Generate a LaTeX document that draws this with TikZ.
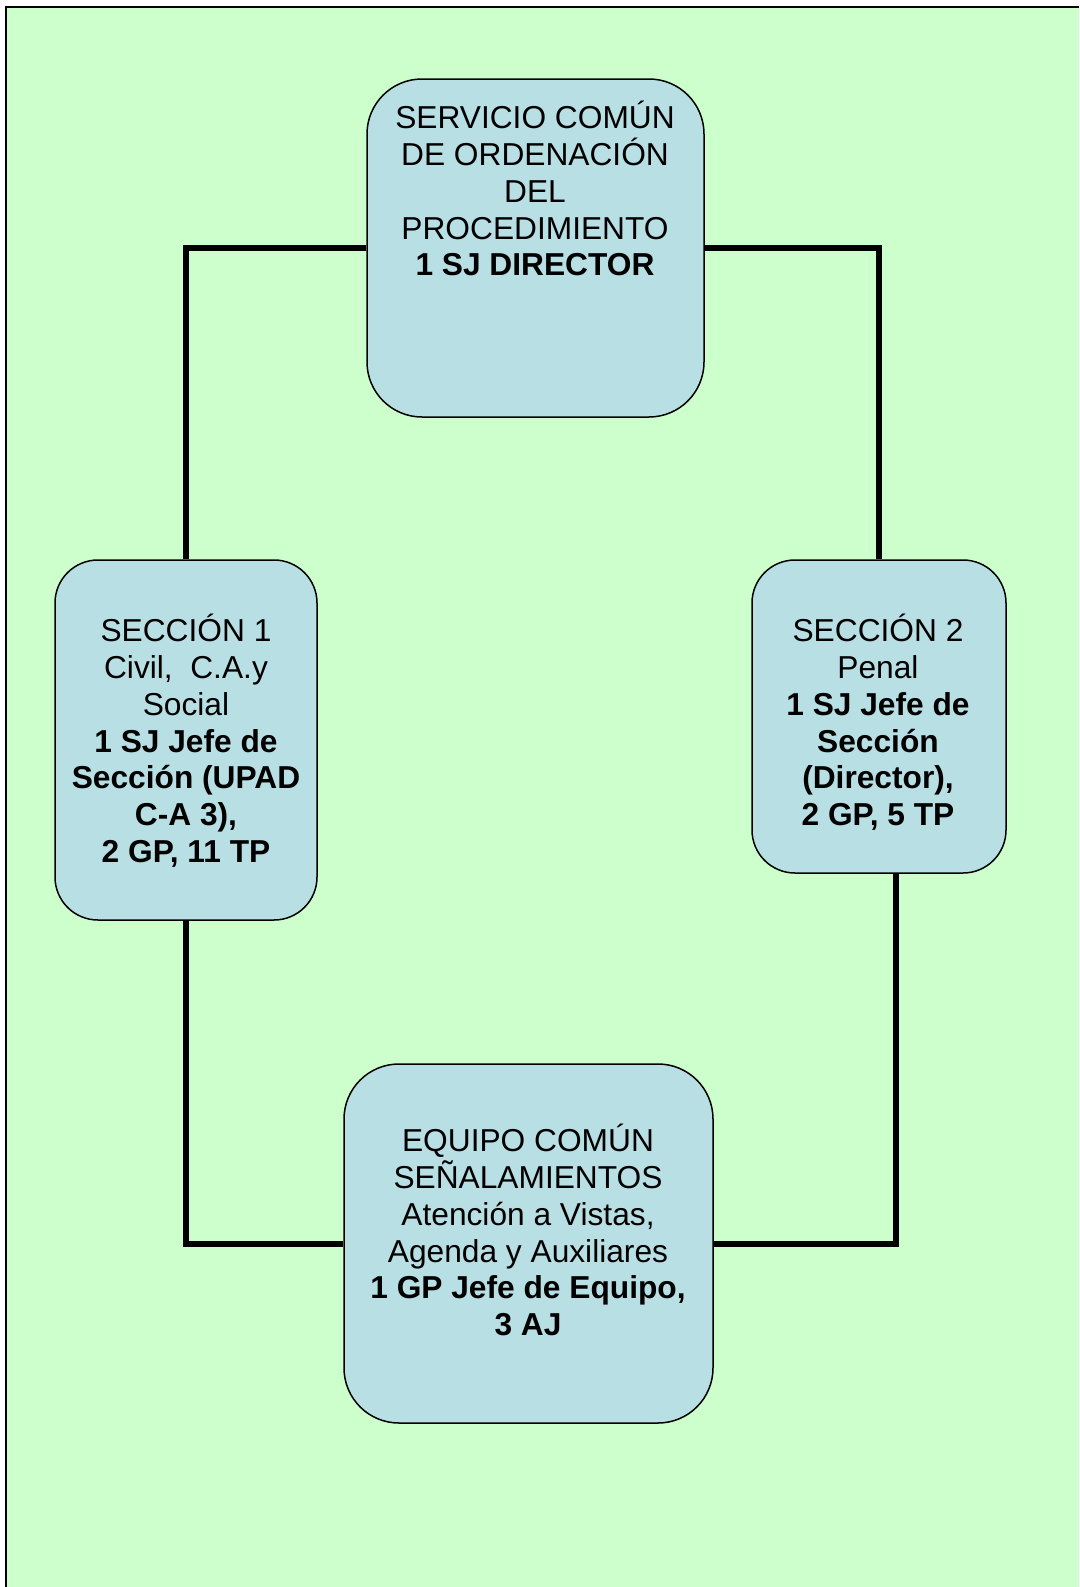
\documentclass[tikz,border=0pt]{standalone}
\usepackage{fontspec}
\setmainfont{Liberation Sans}
\definecolor{bg}{RGB}{204,255,204}
\definecolor{boxfill}{RGB}{184,223,228}
\begin{document}
\begin{tikzpicture}[x=1pt,y=-1pt,
  box/.style={draw=black, line width=1.5pt, fill=boxfill, rounded corners=#1, inner sep=0pt},
  lbl/.style={anchor=north, inner sep=0pt, align=center, font=\fontsize{31.7}{36.8}\selectfont},
  conn/.style={draw=black, line width=6pt}]
\useasboundingbox (0,0) rectangle (1079,1587);
\fill[bg] (6,7) rectangle (1079,1587);
\draw[line width=2pt] (1079,7) -- (6,7) -- (6,1587);
% boxes
\node[box=55pt, minimum width=337pt, minimum height=338pt] (top) at (535.5,248) {};
\node[box=43pt, minimum width=262pt, minimum height=360pt] (left) at (186,740) {};
\node[box=43pt, minimum width=254pt, minimum height=313pt] (right) at (879,716.5) {};
\node[box=55pt, minimum width=369pt, minimum height=359pt] (bot) at (528.5,1243.5) {};
% connectors
\draw[conn] (top.west) -| (left.north);
\draw[conn] (top.east) -| (right.north);
\draw[conn] (left.south) |- (bot.west);
\draw[conn] ([xshift=17pt]right.south) |- (bot.east);
% texts
\node[lbl] (toptext) at (535,101) {\rule{0pt}{26pt}SERVICIO COMÚN\\DE ORDENACIÓN\\DEL\\PROCEDIMIENTO\\\textbf{1 SJ DIRECTOR}};
\node[lbl] (lefttext) at (186,614) {\rule{0pt}{26pt}SECCIÓN 1\\Civil, \ C.A.y\\Social\\\textbf{1 SJ Jefe de}\\\textbf{Sección (UPAD}\\\textbf{C-A 3),}\\\textbf{2 GP, 11 TP}};
\node[lbl] (righttext) at (878,614) {\rule{0pt}{26pt}SECCIÓN 2\\Penal\\\textbf{1 SJ Jefe de}\\\textbf{Sección}\\\textbf{(Director),}\\\textbf{2 GP, 5 TP}};
\node[lbl] (bottext) at (528,1124) {\rule{0pt}{26pt}EQUIPO COMÚN\\SEÑALAMIENTOS\\Atención a Vistas,\\Agenda y Auxiliares\\\textbf{1 GP Jefe de Equipo,}\\\textbf{3 AJ}};
\end{tikzpicture}
\end{document}
